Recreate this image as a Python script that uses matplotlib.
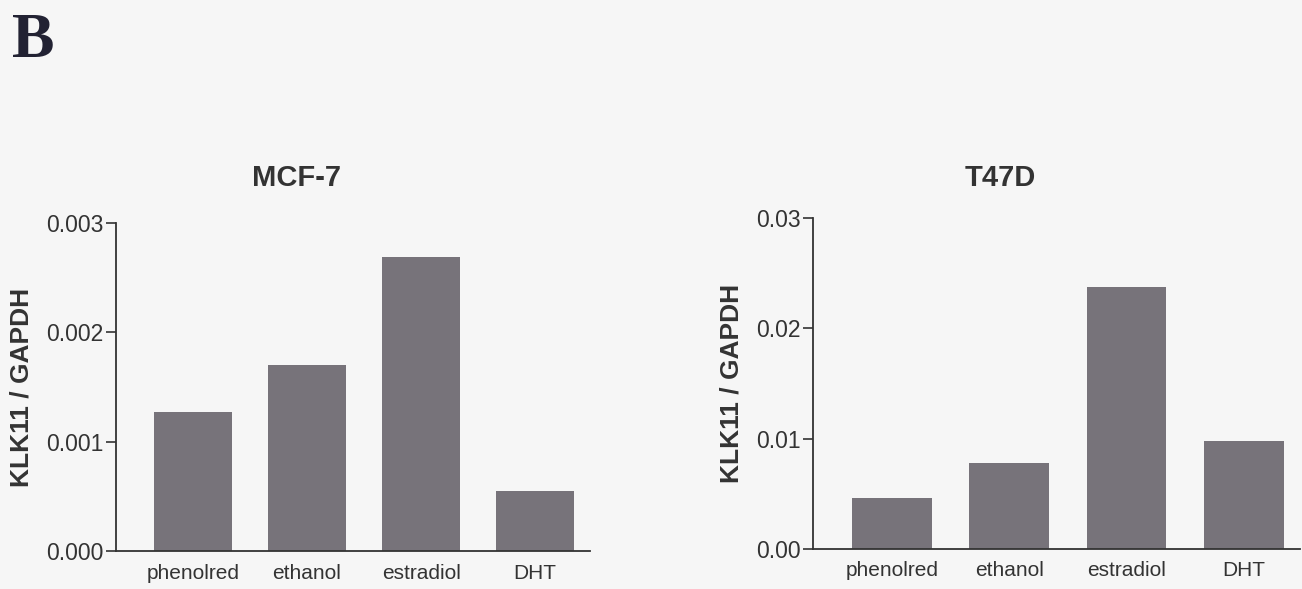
import matplotlib.pyplot as plt
import numpy as np

# treatments and KLK11 / GAPDH ratios
treatments = ["phenolred", "ethanol", "estradiol", "DHT"]
mcf7_vals = [0.00127, 0.00170, 0.00269, 0.00055]
t47d_vals = [0.0046, 0.0078, 0.0237, 0.0098]
mcf7_ticks = [0.000, 0.001, 0.002, 0.003]
t47d_ticks = [0.00, 0.01, 0.02, 0.03]

plt.rcParams['font.family'] = ['Liberation Sans', 'DejaVu Sans']
bg = '#f6f6f6'
bar_color = '#77737a'

fig = plt.figure(figsize=(13.02, 5.89), dpi=100, facecolor=bg)


def panel(rect, title, title_x, vals, ticks, fmt):
    ax = fig.add_axes(rect, facecolor=bg)
    x = np.arange(len(treatments))
    ax.bar(x, vals, width=0.68, color=bar_color)
    ax.set_xlim(-0.675, 3.48)
    ax.set_ylim(ticks[0], ticks[-1])
    ax.set_yticks(ticks)
    ax.set_yticklabels([fmt.format(t) for t in ticks], fontsize=16.5, color='#333333')
    ax.set_xticks(x)
    ax.set_xticklabels(treatments, fontsize=15, color='#333333')
    ax.tick_params(axis='x', length=0, pad=9)
    ax.tick_params(axis='y', length=7, width=1.2, color='#333333', pad=2)
    for s in ['top', 'right']:
        ax.spines[s].set_visible(False)
    for s in ['left', 'bottom']:
        ax.spines[s].set_linewidth(1.3)
        ax.spines[s].set_color('#333333')
    ax.set_ylabel("KLK11 / GAPDH", fontsize=19, fontweight='bold', color='#333333', labelpad=9)
    fig.text(title_x, 0.697, title, fontsize=21, fontweight='bold', color='#333333',
             ha='center', va='center')
    return ax


panel([0.0891, 0.0645, 0.364, 0.557], "MCF-7", 296 / 1302, mcf7_vals, mcf7_ticks, "{:.3f}")
panel([0.6244, 0.068, 0.374, 0.562], "T47D", 1000 / 1302, t47d_vals, t47d_ticks, "{:.2f}")

fig.text(0.009, 0.978, "B", fontsize=46, fontweight='bold', family='Liberation Serif',
         color='#222233', va='top', ha='left')

fig.savefig("out.png", dpi=100, facecolor=bg)
